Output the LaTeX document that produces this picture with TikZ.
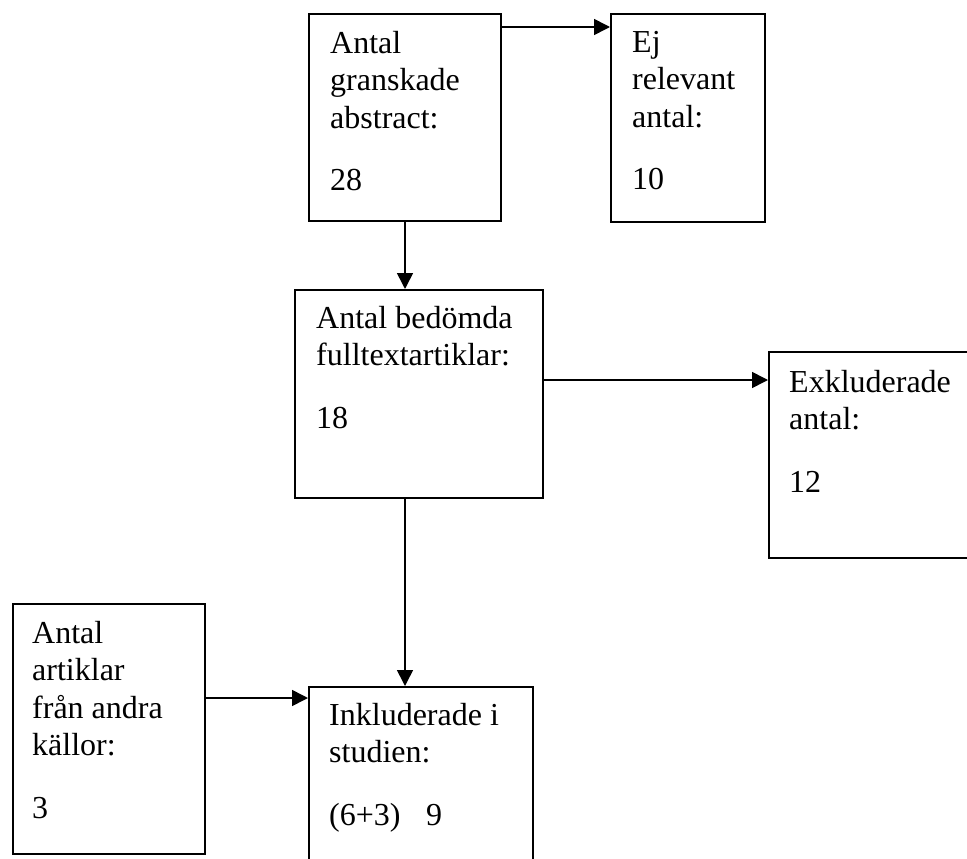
\documentclass[tikz,border=0pt]{standalone}
\usepackage{fontspec}
\setmainfont{Liberation Serif}
\usetikzlibrary{arrows.meta,positioning,calc}
\tikzset{
  box/.style={
    rectangle,draw=black,line width=2pt,
    anchor=north west,inner sep=0pt
  },
  boxtext/.style={
    anchor=north west,inner sep=0pt,align=left,
    font=\fontsize{32}{37.5}\selectfont
  },
  arrow/.style={-{Triangle[length=16pt,width=16pt]},draw=black,line width=1.6pt}
}

\begin{document}
\begin{tikzpicture}[x=1pt,y=-1pt]
\useasboundingbox (0,0) rectangle (967,859);
\clip (0,0) rectangle (967,859);

% boxes
\node[box,minimum width=192pt,minimum height=207pt] (abstracts) at (308,13) {};
\node[box,minimum width=154pt,minimum height=208pt] (irrelevant) at (610,13) {};
\node[box,minimum width=248pt,minimum height=208pt] (fulltext) at (294,289) {};
\node[box,minimum width=240pt,minimum height=206pt] (excluded) at (768,351) {};
\node[box,minimum width=224pt,minimum height=200pt] (included) at (308,686) {};
\node[box,minimum width=192pt,minimum height=250pt] (othersrc) at (12,603) {};

% texts
\node[boxtext] (abstracts-text) at ([shift={(22,18)}]abstracts.north west)
{Antal\\granskade\\abstract:\\[25pt]28};
\node[boxtext] (irrelevant-text) at ([shift={(22,18)}]irrelevant.north west)
{Ej\\relevant\\antal:\\[25pt]10};
\node[boxtext] (fulltext-text) at ([shift={(22,17)}]fulltext.north west)
{Antal bedömda\\fulltextartiklar:\\[25pt]18};
\node[boxtext] (excluded-text) at ([shift={(21,19)}]excluded.north west)
{Exkluderade\\antal:\\[25pt]12};
\node[boxtext] (included-text) at ([shift={(21,17)}]included.north west)
{Inkluderade i\\studien:\\[25pt](6+3)\hspace{0.8em}9};
\node[boxtext] (othersrc-text) at ([shift={(20,18)}]othersrc.north west)
{Antal\\artiklar\\från andra\\källor:\\[25pt]3};

% connectors
\draw[arrow] ([yshift=-14pt]abstracts.north east) -- ([yshift=-14pt]abstracts.north east -| irrelevant.west);
\draw[arrow] (abstracts.south) -- (abstracts.south |- fulltext.north);
\draw[arrow] ([yshift=-91pt]fulltext.north east) -- ([yshift=-91pt]fulltext.north east -| excluded.west);
\draw[arrow] (abstracts.south |- fulltext.south) -- (abstracts.south |- included.north);
\draw[arrow] ([yshift=-95pt]othersrc.north east) -- ([yshift=-95pt]othersrc.north east -| included.west);
\end{tikzpicture}
\end{document}
